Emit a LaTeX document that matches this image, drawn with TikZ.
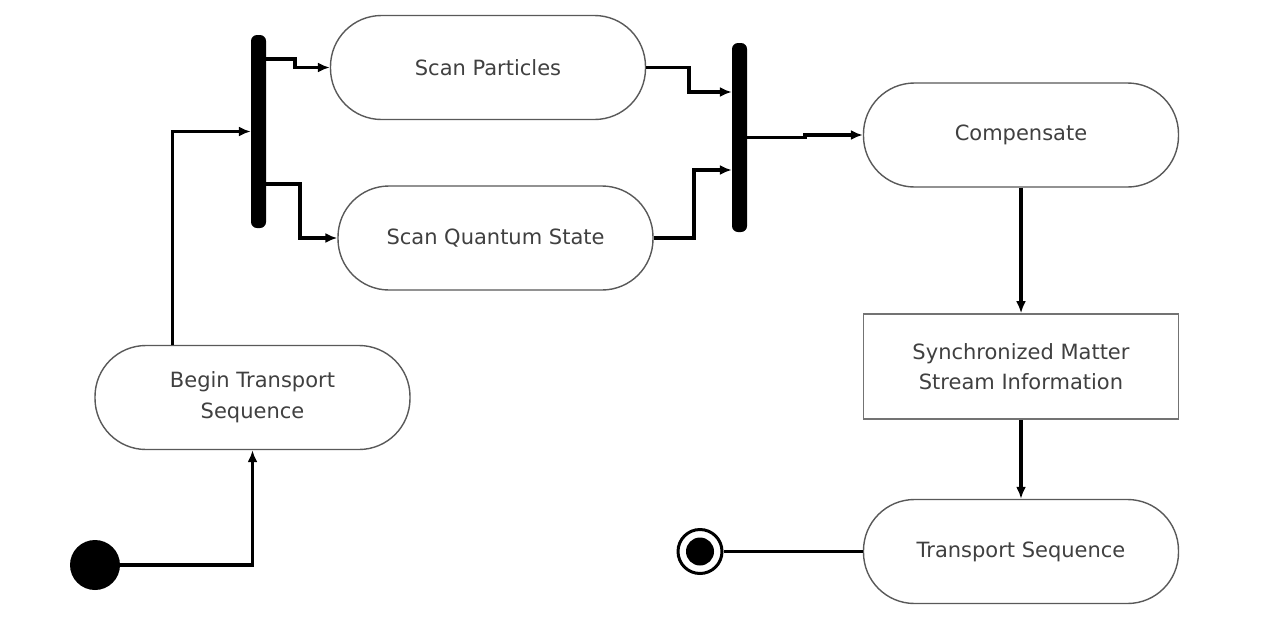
\documentclass[tikz,border=0pt]{standalone}
\usepackage{fontspec}
\setmainfont{DejaVu Sans}
\usetikzlibrary{arrows.meta}
\begin{document}
\begin{tikzpicture}[x=1pt,y=-1pt,
  actbox/.style={draw=black!65, line width=1.4pt, rounded corners=51pt, minimum width=315pt, minimum height=104pt, align=center, font=\fontsize{21}{31}\selectfont, text=black!75, inner sep=0pt},
  plainbox/.style={draw=black!55, line width=1.6pt, minimum width=315pt, minimum height=105pt, align=center, font=\fontsize{21}{30}\selectfont, text=black!75, inner sep=0pt},
  bar/.style={fill=black, rounded corners=6pt, minimum width=15pt, inner sep=0pt},
  flow/.style={line width=3.8pt, draw=black, -{Latex[length=12pt,width=10pt]}},
  flowplain/.style={line width=3.8pt, draw=black}
]
\useasboundingbox (0,0) rectangle (1277,627);
\fill[white] (0,0) rectangle (1277,627);

\node[actbox] (sp) at (488,67.5) {Scan Particles};
\node[actbox] (sq) at (495.5,238) {Scan Quantum State};
\node[actbox] (comp) at (1021,135) {Compensate};
\node[plainbox] (sync) at (1021,366.5) {Synchronized Matter\\Stream Information};
\node[actbox] (ts) at (1021,551.5) {Transport Sequence};
\node[actbox] (bts) at (252.5,397.5) {Begin Transport\\Sequence};

\node[circle, fill=black, minimum size=50pt, inner sep=0pt] (start) at (95,565) {};
\node[bar, minimum height=193pt] (fork) at (258.5,131.5) {};
\node[bar, minimum height=189pt] (join) at (739.5,137.5) {};
\node[circle, draw=black, line width=3pt, minimum size=44pt, inner sep=0pt] (end) at (700,551.5) {};
\fill[black] (end.center) circle (14pt);

\draw[flow] (start.east) -| (bts.south);
\draw[flow] ([xshift=-80pt]bts.north) |- (fork.west);
\draw[flow] ([yshift=72.5pt]fork.east) -- ++(29,0) |- (sp.west);
\draw[flow] ([yshift=-52.5pt]fork.east) -- ++(34,0) |- (sq.west);
\draw[flow] (sp.east) -- ++(43,0) |- ([yshift=45.5pt]join.west);
\draw[flow] (sq.east) -- ++(40,0) |- ([yshift=-32.5pt]join.west);
\draw[flow] (join.east) -- ++(58,0) |- (comp.west);
\draw[flow] (comp.south) -- (sync.north);
\draw[flow] (sync.south) -- (ts.north);
\draw[flowplain] (ts.west) -- (end.east);
\end{tikzpicture}
\end{document}
